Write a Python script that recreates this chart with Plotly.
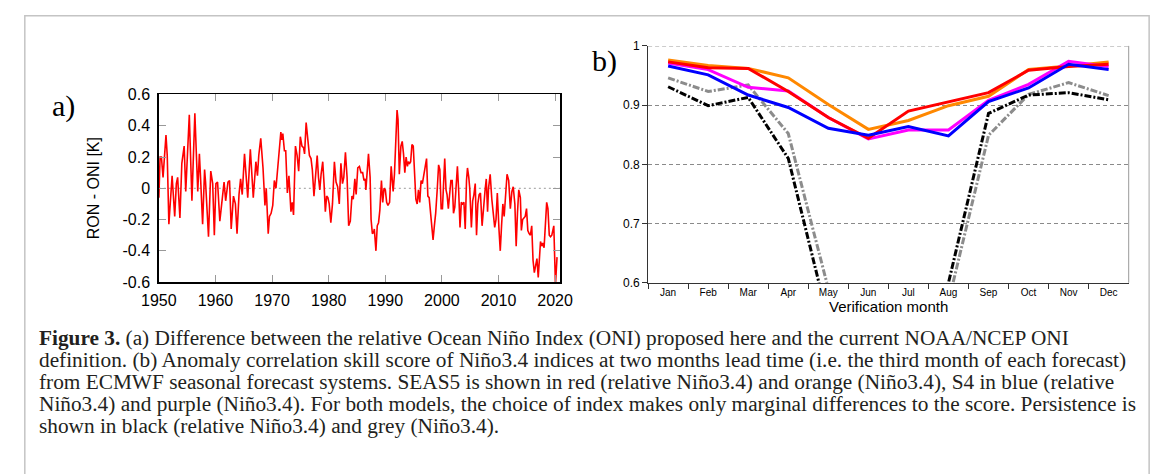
import plotly.graph_objects as go

W, H = 1167, 474

# ---------------- panel (a) data: RON - ONI [K] ----------------
years = [
    1950.00, 1950.22, 1950.45, 1950.74, 1951.26, 1951.48, 1951.77, 1952.06, 1952.34, 1952.80,
    1953.09, 1953.32, 1953.72, 1954.06, 1954.47, 1954.75, 1955.04, 1955.38, 1955.84, 1956.36,
    1956.87, 1957.16, 1957.39, 1957.73, 1958.08, 1958.25, 1958.77, 1959.17, 1959.51, 1959.80,
    1960.08, 1960.37, 1960.77, 1961.23, 1961.52, 1961.80, 1962.21, 1962.49, 1962.78, 1963.18,
    1963.52, 1963.81, 1964.16, 1964.44, 1964.73, 1965.13, 1965.42, 1965.70, 1966.16, 1966.68,
    1967.14, 1967.42, 1967.65, 1968.00, 1968.40, 1968.74, 1968.97, 1969.32, 1969.54, 1969.83,
    1970.12, 1970.40, 1970.69, 1970.98, 1971.26, 1971.55, 1971.72, 1971.90, 1972.18, 1972.41,
    1972.70, 1972.98, 1973.33, 1973.56, 1973.79, 1974.13, 1974.42, 1974.70, 1974.99, 1975.28,
    1975.56, 1975.74, 1976.02, 1976.31, 1976.60, 1976.88, 1977.11, 1977.40, 1977.74, 1977.97,
    1978.20, 1978.43, 1978.66, 1978.95, 1979.18, 1979.41, 1979.64, 1979.86, 1980.09, 1980.38,
    1980.67, 1981.01, 1981.30, 1981.58, 1981.87, 1982.16, 1982.44, 1982.67, 1982.96, 1983.25,
    1983.53, 1983.82, 1984.11, 1984.34, 1984.62, 1984.85, 1985.14, 1985.43, 1985.71, 1986.00,
    1986.23, 1986.46, 1986.57, 1986.74, 1987.03, 1987.32, 1987.49, 1987.72, 1987.95, 1988.06,
    1988.35, 1988.58, 1988.81, 1989.04, 1989.32, 1989.55, 1989.78, 1990.01, 1990.24, 1990.47,
    1990.76, 1991.04, 1991.39, 1991.62, 1991.85, 1992.08, 1992.25, 1992.48, 1992.76, 1992.99,
    1993.22, 1993.45, 1993.68, 1993.91, 1994.08, 1994.31, 1994.48, 1994.71, 1994.94, 1995.17,
    1995.40, 1995.63, 1995.86, 1996.09, 1996.32, 1996.55, 1996.78, 1997.06, 1997.29, 1997.52,
    1997.75, 1997.98, 1998.21, 1998.44, 1998.67, 1998.90, 1999.19, 1999.42, 1999.64, 1999.87,
    2000.10, 2000.28, 2000.50, 2000.73, 2000.91, 2001.14, 2001.36, 2001.59, 2001.82, 2002.05,
    2002.28, 2002.51, 2002.74, 2002.97, 2003.20, 2003.43, 2003.66, 2003.89, 2004.12, 2004.35,
    2004.52, 2004.75, 2004.92, 2005.21, 2005.44, 2005.66, 2005.89, 2006.12, 2006.35, 2006.58,
    2006.81, 2007.10, 2007.38, 2007.61, 2007.84, 2008.07, 2008.24, 2008.53, 2008.82, 2009.10,
    2009.33, 2009.56, 2009.79, 2010.08, 2010.31, 2010.54, 2010.77, 2011.00, 2011.23, 2011.51,
    2011.80, 2012.09, 2012.37, 2012.60, 2012.89, 2013.12, 2013.35, 2013.58, 2013.86, 2014.04,
    2014.26, 2014.49, 2014.72, 2014.95, 2015.18, 2015.41, 2015.64, 2015.87, 2016.10, 2016.33,
    2016.56, 2016.79, 2017.02, 2017.25, 2017.42, 2017.65, 2017.82, 2018.05, 2018.28, 2018.51,
    2018.73, 2018.97, 2019.19, 2019.42, 2019.77, 2020.06, 2020.34,
]
ron_minus_oni = [
    -0.06, 0.20, 0.20, 0.07, 0.34, 0.21, -0.23, -0.06, 0.08, -0.18,
    0.03, 0.07, -0.19, 0.16, 0.27, -0.02, 0.19, 0.47, -0.08, 0.48,
    -0.02, 0.22, 0.05, -0.23, 0.12, 0.04, -0.31, 0.11, 0.03, -0.30,
    0.03, 0.04, -0.21, -0.04, 0.04, -0.08, 0.04, 0.05, -0.26, -0.05,
    -0.10, -0.29, -0.04, 0.06, -0.04, 0.22, 0.09, -0.06, 0.25, -0.06,
    0.17, 0.08, 0.21, 0.32, 0.13, -0.11, 0.00, -0.29, -0.18, -0.16,
    -0.11, 0.05, 0.00, 0.13, 0.28, 0.36, 0.31, 0.35, 0.24, 0.24,
    -0.03, 0.08, -0.15, -0.09, -0.17, 0.27, 0.21, 0.11, 0.33, 0.27,
    0.26, 0.22, 0.42, 0.32, 0.21, 0.19, 0.12, -0.05, 0.12, 0.21,
    0.07, -0.01, 0.09, 0.17, 0.03, -0.15, -0.05, -0.06, -0.10, -0.22,
    -0.10, 0.17, 0.04, 0.01, -0.10, 0.16, 0.03, 0.07, 0.23, 0.07,
    -0.24, -0.21, -0.05, -0.07, 0.06, -0.04, 0.13, 0.14, 0.10, 0.10,
    0.05, 0.06, -0.01, 0.07, 0.22, 0.07, -0.20, -0.29, -0.28, -0.26,
    -0.40, -0.24, -0.22, -0.14, 0.05, -0.09, 0.00, -0.01, -0.09, -0.11,
    -0.09, 0.14, -0.02, 0.09, 0.27, 0.50, 0.44, 0.09, 0.27, 0.30,
    0.22, 0.10, 0.20, 0.14, 0.17, 0.16, 0.17, 0.28, 0.27, 0.07,
    -0.07, -0.10, -0.01, -0.09, 0.05, 0.03, 0.07, 0.14, 0.19, -0.05,
    -0.06, -0.16, -0.28, -0.33, -0.24, -0.16, 0.00, 0.15, 0.12, -0.13,
    -0.13, 0.05, 0.19, -0.01, -0.04, -0.13, -0.04, 0.05, 0.05, -0.16,
    -0.12, 0.00, 0.14, -0.02, -0.25, -0.09, -0.10, -0.09, -0.26, 0.05,
    0.13, 0.07, 0.00, -0.25, -0.08, -0.04, 0.03, -0.30, -0.10, -0.04,
    -0.03, -0.24, -0.10, -0.02, 0.06, -0.15, 0.00, 0.09, -0.07, -0.18,
    -0.25, -0.20, -0.03, -0.26, -0.40, -0.24, -0.10, -0.18, -0.02, 0.09,
    0.05, -0.13, -0.02, 0.01, -0.10, -0.37, -0.16, -0.01, -0.06, -0.27,
    -0.20, -0.19, -0.18, -0.13, -0.27, -0.29, -0.30, -0.24, -0.46, -0.54,
    -0.49, -0.45, -0.57, -0.45, -0.34, -0.37, -0.35, -0.38, -0.26, -0.09,
    -0.13, -0.30, -0.31, -0.30, -0.24, -0.62, -0.44,
]
a_xticks = [1950, 1960, 1970, 1980, 1990, 2000, 2010, 2020]
a_yticks = [-0.6, -0.4, -0.2, 0, 0.2, 0.4, 0.6]
a_yticktext = ["-0.6", "-0.4", "-0.2", "0", "0.2", "0.4", "0.6"]

# ---------------- panel (b) data: anomaly correlation ----------------
months = ["Jan", "Feb", "Mar", "Apr", "May", "Jun", "Jul", "Aug", "Sep", "Oct", "Nov", "Dec"]
seas5_relative = [0.973, 0.963, 0.962, 0.923, 0.879, 0.844, 0.890, 0.905, 0.921, 0.959, 0.965, 0.969]
seas5_nino34 = [0.976, 0.967, 0.962, 0.946, 0.901, 0.859, 0.874, 0.899, 0.915, 0.960, 0.966, 0.973]
s4_nino34 = [0.971, 0.960, 0.930, 0.924, 0.879, 0.843, 0.858, 0.858, 0.908, 0.935, 0.974, 0.965]
s4_relative = [0.966, 0.951, 0.917, 0.896, 0.861, 0.849, 0.864, 0.848, 0.906, 0.929, 0.969, 0.960]
persist_relative = [0.931, 0.899, 0.913, 0.810, 0.536, 0.45, 0.47, 0.600, 0.886, 0.917, 0.921, 0.909]
persist_nino34 = [0.946, 0.923, 0.934, 0.852, 0.590, 0.48, 0.46, 0.568, 0.849, 0.918, 0.938, 0.916]
b_yticks = [0.6, 0.7, 0.8, 0.9, 1.0]
b_yticktext = ["0.6", "0.7", "0.8", "0.9", "1"]

caption_lines = [
    "<b>Figure 3.</b> (a) Difference between the relative Ocean Niño Index (ONI) proposed here and the current NOAA/NCEP ONI",
    "definition. (b) Anomaly correlation skill score of Niño3.4 indices at two months lead time (i.e. the third month of each forecast)",
    "from ECMWF seasonal forecast systems. SEAS5 is shown in red (relative Niño3.4) and orange (Niño3.4), S4 in blue (relative",
    "Niño3.4) and purple (Niño3.4). For both models, the choice of index makes only marginal differences to the score. Persistence is",
    "shown in black (relative Niño3.4) and grey (Niño3.4).",
]
caption_y_px = [342, 365, 388, 411, 434]


def px(x):
    return x / W


def py(y):
    return 1 - y / H


SANS = "Liberation Sans, Arial, sans-serif"
SERIF = "Liberation Serif, Times New Roman, serif"

fig = go.Figure()

fig.add_trace(go.Scatter(x=years, y=ron_minus_oni, mode="lines",
                         line=dict(color="#ff0000", width=1.6),
                         xaxis="x", yaxis="y", hoverinfo="skip"))

dashdot = "7px,2px,2px,2px"
series_b = [
    (persist_nino34, "#8c8c8c", dashdot),
    (persist_relative, "#000000", dashdot),
    (seas5_nino34, "#ff8800", "solid"),
    (s4_nino34, "#ff00ff", "solid"),
    (seas5_relative, "#ff0000", "solid"),
    (s4_relative, "#0000ff", "solid"),
]
for vals, col, dash in series_b:
    fig.add_trace(go.Scatter(x=months, y=vals, mode="lines",
                             line=dict(color=col, width=3, dash=dash),
                             xaxis="x2", yaxis="y2", hoverinfo="skip"))

fig.update_layout(
    width=W, height=H,
    margin=dict(l=0, r=0, t=0, b=0),
    paper_bgcolor="white", plot_bgcolor="white",
    showlegend=False,
    xaxis=dict(
        domain=[px(144.7), px(557)], range=[1950, 2020.9], anchor="y",
        tickvals=a_xticks, ticks="inside", ticklen=7, tickcolor="#999999",
        showline=True, linecolor="black", linewidth=1.6, mirror="ticks",
        showgrid=False, zeroline=False,
        tickfont=dict(family=SANS, size=16, color="black"), ticklabelstandoff=3,
    ),
    yaxis=dict(
        domain=[py(284.3), py(89.7)], range=[-0.6, 0.6], anchor="x",
        tickvals=a_yticks, ticktext=a_yticktext, ticks="inside", ticklen=7,
        tickcolor="#999999",
        showline=True, linecolor="black", linewidth=1.6, mirror="ticks",
        showgrid=False, zeroline=False,
        tickfont=dict(family=SANS, size=16, color="black"), ticklabelstandoff=4,
    ),
    xaxis2=dict(
        domain=[px(647.3), px(1141)], anchor="y2", type="category",
        categoryorder="array", categoryarray=months, range=[-0.5, 11.5],
        tickson="boundaries", ticks="outside", ticklen=5, tickcolor="#333333",
        showline=True, linecolor="#333333", linewidth=1,
        showgrid=False, zeroline=False,
        tickfont=dict(family=SANS, size=10, color="black"),
    ),
    yaxis2=dict(
        domain=[py(285), py(39.3)], anchor="x2", range=[0.6, 1.0],
        tickvals=b_yticks, ticktext=b_yticktext, ticks="outside", ticklen=5,
        tickcolor="#333333",
        showline=True, linecolor="#333333", linewidth=1,
        showgrid=True, gridcolor="#8a8a8a", gridwidth=1, griddash="4px,3px",
        zeroline=False,
        tickfont=dict(family=SANS, size=12, color="black"),
    ),
)

shapes = [
    # outer light grey frame
    dict(type="rect", xref="paper", yref="paper", x0=px(7), x1=px(1162), y0=-0.05, y1=py(8),
         line=dict(color="#c4c4c4", width=1.5), fillcolor="rgba(0,0,0,0)", layer="below"),
    # dotted zero line in panel a
    dict(type="line", xref="x domain", yref="y", x0=0, x1=1, y0=0, y1=0,
         line=dict(color="#9a9a9a", width=1, dash="2px,3px"), layer="below"),
    # dashed line at 1.0 in panel b (top edge)
    dict(type="line", xref="x2 domain", yref="y2", x0=0, x1=1, y0=1.0, y1=1.0,
         line=dict(color="#777777", width=1, dash="4px,3px")),
    # thin grey right border of panel b
    dict(type="line", xref="x2 domain", yref="y2 domain", x0=1, x1=1, y0=0, y1=1,
         line=dict(color="#999999", width=1)),
]
fig.update_layout(shapes=shapes)

annotations = [
    dict(text="a)", x=px(47), y=py(102), xref="paper", yref="paper", showarrow=False,
         font=dict(family=SERIF, size=30, color="black"), xanchor="center", yanchor="middle"),
    dict(text="b)", x=px(603), y=py(55), xref="paper", yref="paper", showarrow=False,
         font=dict(family=SERIF, size=30, color="black"), xanchor="center", yanchor="middle"),
    dict(text="RON - ONI [K]", x=px(77), y=py(187), xref="paper", yref="paper", showarrow=False,
         textangle=-90, font=dict(family=SANS, size=16, color="black"),
         xanchor="center", yanchor="middle"),
    dict(text="Verification month", x=px(894), y=py(310), xref="paper", yref="paper",
         showarrow=False, font=dict(family=SANS, size=15, color="black"),
         xanchor="center", yanchor="middle"),
]
for line, ypx in zip(caption_lines, caption_y_px):
    annotations.append(dict(text=line, x=px(20), y=py(ypx), xref="paper", yref="paper",
                            showarrow=False, xanchor="left", yanchor="middle",
                            font=dict(family=SERIF, size=21.3, color="#231f20")))
fig.update_layout(annotations=annotations)

fig.write_html(
    "out.html",
    config={"displayModeBar": False, "staticPlot": True},
    post_script="document.body.style.margin='0';document.body.style.overflow='hidden';",
)
